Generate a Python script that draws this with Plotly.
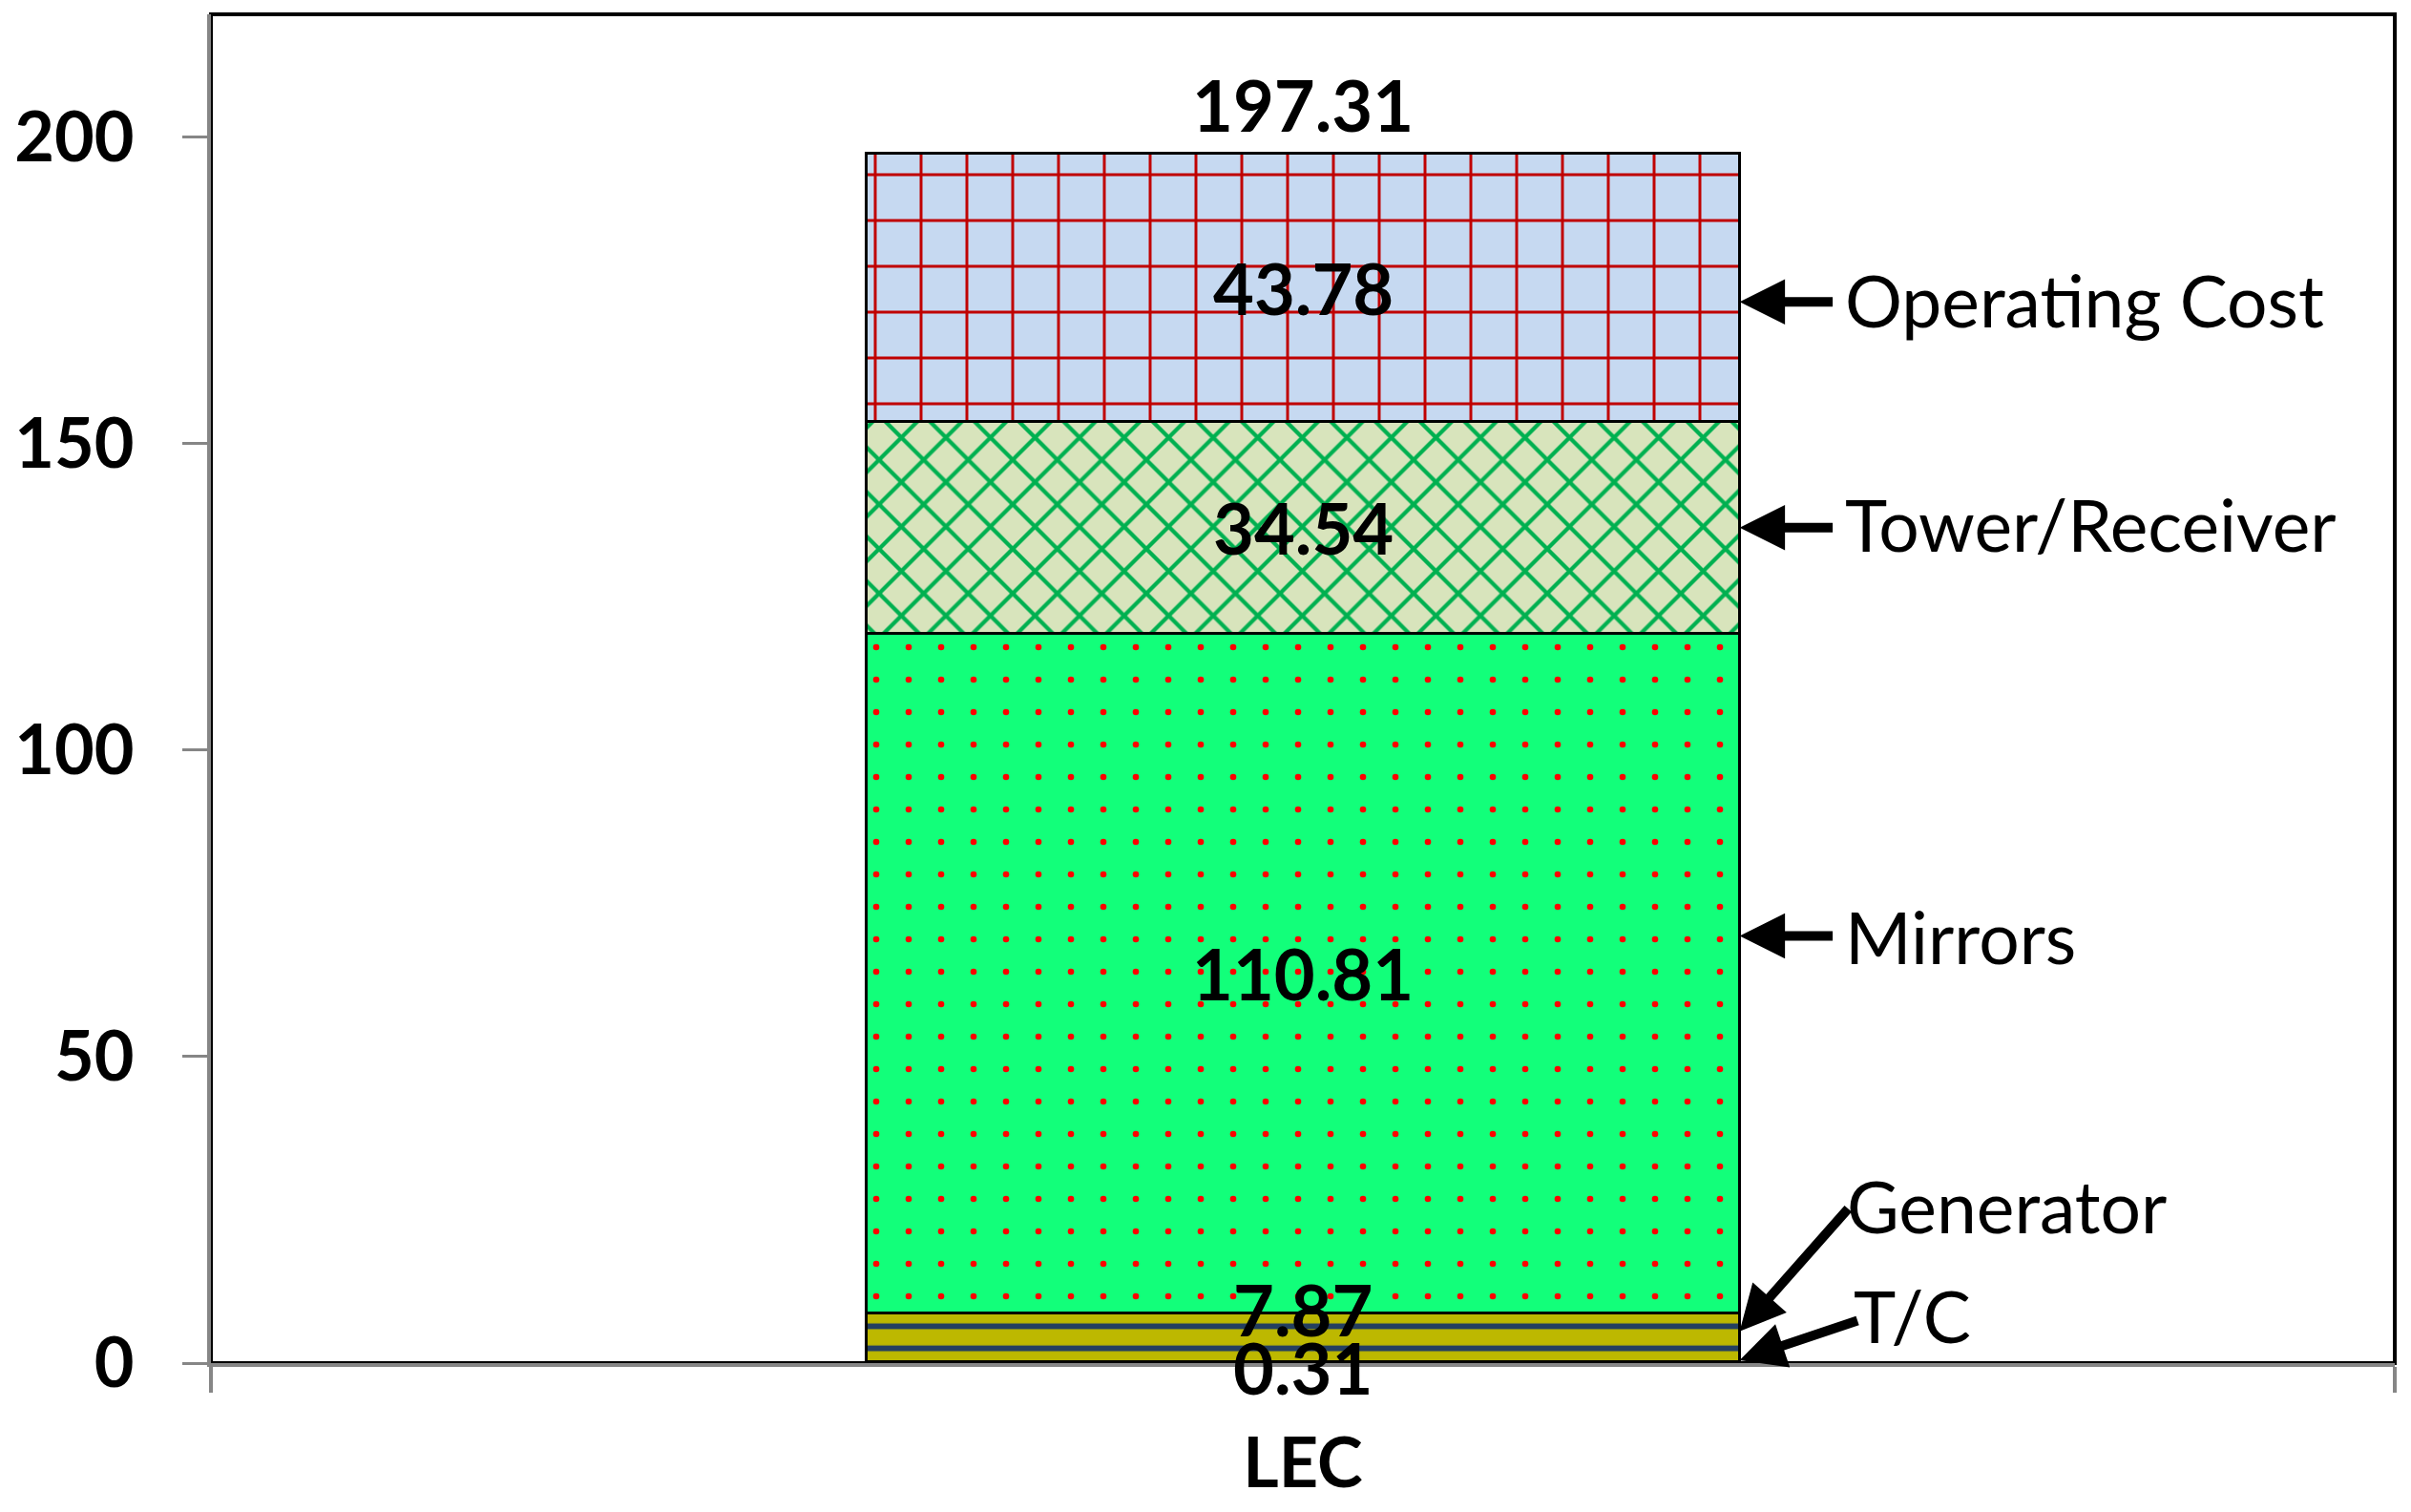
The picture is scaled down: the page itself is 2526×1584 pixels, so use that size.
import plotly.graph_objects as go

# data, bottom segment first
categories = ["LEC"]
segment_names = ["T/C", "Generator", "Mirrors", "Tower/Receiver", "Operating Cost"]
segment_values = [0.31, 7.87, 110.81, 34.54, 43.78]
y_ticks = [0, 50, 100, 150, 200]

# fill styles (excel-like pattern fills)
bg_colors = ["#BDB800", "#BDB800", "#12FF7A", "#D8E4BC", "#C6D9F1"]
fg_colors = ["#243F60", "#243F60", "#FF0000", "#00B050", "#C00000"]
pattern_shapes = ["-", "-", ".", "x", "+"]
pattern_sizes = [23.1, 23.1, 34, 33, 48]
pattern_solidity = [0.26, 0.26, 0.03, 0.24, 0.12]

FONT = "Lato"
bold = dict(family=FONT, size=72, color="black", weight="bold")
label_font = dict(family=FONT, size=74, color="black", weight="bold")
regular = dict(family=FONT, size=75, color="black")

fig = go.Figure()
for i, (name, val) in enumerate(zip(segment_names, segment_values)):
    fig.add_trace(go.Bar(
        x=categories, y=[val], name=name, width=0.4,
        marker=dict(
            color=bg_colors[i],
            line=dict(color="black", width=3),
            pattern=dict(shape=pattern_shapes[i], fgcolor=fg_colors[i],
                         bgcolor=bg_colors[i], size=pattern_sizes[i],
                         solidity=pattern_solidity[i], fillmode="replace"),
        ),
        hoverinfo="name+y",
    ))

# value labels in the middle of each segment (small ones nudged apart)
label_nudge = {"Generator": 29, "T/C": -5}
base = 0
centers = {}
for name, val in zip(segment_names, segment_values):
    centers[name] = base + val / 2
    fig.add_annotation(x=0, y=centers[name], text=f"{val:.2f}", showarrow=False,
                       font=label_font, yshift=label_nudge.get(name, 0))
    base += val
fig.add_annotation(x=0, y=base, text=f"{base:.2f}", showarrow=False, font=label_font, yshift=51)

# callout arrows + names on the right: (tip shift px, tail dx, tail dy, text dx, text dy)
callouts = {
    "Operating Cost": (-15, 99, 0, 108, 2),
    "Tower/Receiver": (0, 99, 0, 108, 4),
    "Mirrors": (39, 99, 0, 108, 0),
    "Generator": (6, 115, -130, 110, 132),
    "T/C": (2, 125, -42, 117, 47),
}
for name, (tip_dy, tdx, tdy, txt_dx, txt_dy) in callouts.items():
    fig.add_annotation(x=0.2, y=centers[name], ax=tdx, ay=tdy, text="", showarrow=True,
                       arrowhead=2, arrowsize=0.95, arrowwidth=10, arrowcolor="black",
                       standoff=0, yshift=tip_dy)
    fig.add_annotation(x=0.2, y=centers[name], text=name, showarrow=False, font=regular,
                       xanchor="left", yanchor="middle", xshift=txt_dx, yshift=tip_dy + txt_dy)

fig.add_shape(type="rect", xref="paper", yref="paper", x0=0, x1=1, y0=0, y1=1,
              line=dict(color="black", width=4), layer="below")

# page body has an 8px margin, so the figure is a bit smaller than the window
fig.update_layout(
    barmode="stack",
    width=2518, height=1576,
    margin=dict(l=213, r=17, t=7, b=156, autoexpand=False),
    plot_bgcolor="white", paper_bgcolor="white",
    showlegend=False,
    font=dict(family=FONT, color="black"),
)
fig.update_yaxes(range=[0, 220], tickvals=y_ticks, ticks="outside", ticklen=26, tickwidth=3,
                 tickcolor="#868686", showline=True, linecolor="#868686", linewidth=4,
                 showgrid=False, zeroline=False, tickfont=bold, ticklabelstandoff=36,
                 automargin=False)
fig.update_xaxes(type="category", range=[-0.5, 0.5], tickson="boundaries", ticks="outside",
                 ticklen=27, tickwidth=4, tickcolor="#868686", showline=True,
                 linecolor="#868686", linewidth=4, showgrid=False, tickfont=bold,
                 ticklabelstandoff=40, automargin=False)

fig.write_html("out.html")
